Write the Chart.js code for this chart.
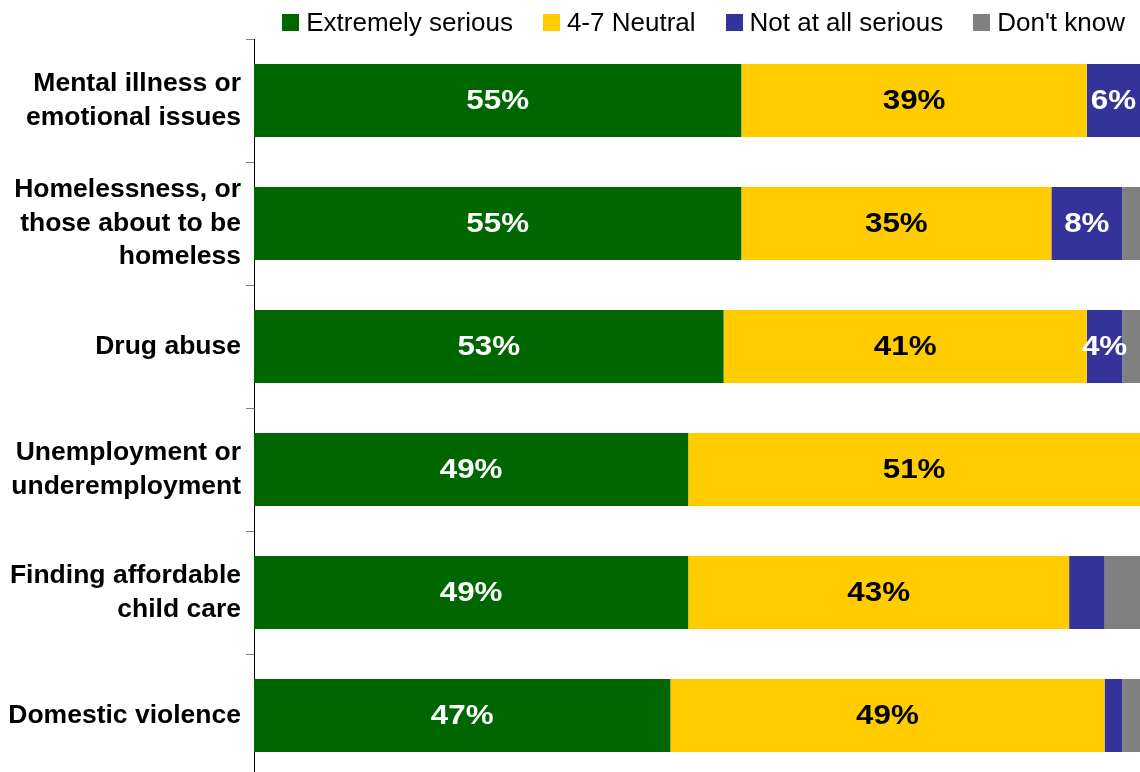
<!DOCTYPE html>
<html>
<head>
<meta charset="utf-8">
<script src="https://cdn.jsdelivr.net/npm/chart.js@4"></script>
<style>
  html, body { margin: 0; padding: 0; background: #fff; overflow: hidden; }
  #wrap { position: relative; width: 1140px; height: 780px; }
  #legend {
    position: absolute; top: 7px; right: 15px;
    display: flex; align-items: center;
    font: 26px "Liberation Sans", Arial, sans-serif; color: #000;
  }
  #legend .item { display: flex; align-items: center; margin-left: 30px; }
  #legend .box { width: 17px; height: 17px; margin-right: 7px; }
</style>
</head>
<body>
<div id="wrap">
  <canvas id="chart"></canvas>
  <div id="legend"></div>
</div>
<script>
/* ---- Data ---- */

const categories = [
  ["Mental illness or", "emotional issues"],
  ["Homelessness, or", "those about to be", "homeless"],
  "Drug abuse",
  ["Unemployment or", "underemployment"],
  ["Finding affordable", "child care"],
  "Domestic violence",
];

const seriesNames = ["Extremely serious", "4-7 Neutral", "Not at all serious", "Don't know"];

const extremelySerious = [55, 55, 53, 49, 49, 47];
const neutral = [39, 35, 41, 51, 43, 49];
const notAtAllSerious = [6, 8, 4, 0, 4, 2];
const dontKnow = [0, 2, 2, 0, 4, 2];

// which rows carry a value label, per series
const extremelyLabelled = [true, true, true, true, true, true];
const neutralLabelled = [true, true, true, true, true, true];
const notAtAllLabelled = [true, true, true, false, false, false];
const dontKnowLabelled = [false, false, false, false, false, false];

/* ---- Theme ---- */

const FONT = '"Liberation Sans", Arial, sans-serif';
const colors = ["#006600", "#FFCC00", "#333399", "#808080"];
const labelColors = ["#fff", "#000", "#fff", "#fff"];

/* ---- Value labels drawn in the middle of each bar ---- */

const barLabels = {
  id: "barLabels",
  afterDatasetsDraw(chart) {
    const ctx = chart.ctx;
    ctx.font = "bold 28px " + FONT;
    ctx.textAlign = "center";
    ctx.textBaseline = "middle";
    chart.data.datasets.forEach((ds, i) => {
      chart.getDatasetMeta(i).data.forEach((bar, j) => {
        if (!ds.showLabel[j]) return;
        const { x, y, base } = bar.getProps(["x", "y", "base"], true);
        ctx.save();
        ctx.translate((x + base) / 2, y + 1);
        ctx.scale(1.12, 1); // source text is slightly wide
        ctx.fillStyle = ds.labelColor;
        ctx.fillText(ds.data[j] + "%", 0, 0);
        ctx.restore();
      });
    });
  },
};

const makeSet = (i, data, shown) => ({
  label: seriesNames[i],
  data,
  backgroundColor: colors[i],
  labelColor: labelColors[i],
  showLabel: shown,
  categoryPercentage: 1,
  barPercentage: 0.593,
});

const drawChart = () => {
  new Chart(document.getElementById("chart"), {
    type: "bar",
    data: {
      labels: categories,
      datasets: [
        makeSet(0, extremelySerious, extremelyLabelled),
        makeSet(1, neutral, neutralLabelled),
        makeSet(2, notAtAllSerious, notAtAllLabelled),
        makeSet(3, dontKnow, dontKnowLabelled),
      ],
    },
    options: {
      indexAxis: "y",
      responsive: true,
      maintainAspectRatio: false,
      animation: false,
      layout: { padding: { top: 39, right: 0, bottom: 3, left: 0 } },
      plugins: {
        legend: { display: false },
        tooltip: { enabled: false },
      },
      scales: {
        x: { stacked: true, display: false, min: 0, max: 100 },
        y: {
          stacked: true,
          afterFit: (scale) => {
            scale.width = 254;
            // labels sit between offset gridlines, no overflow room needed
            scale.paddingTop = 0;
            scale.paddingBottom = 0;
          },
          grid: {
            offset: true,
            drawOnChartArea: false,
            tickLength: 8,
            color: "#808080",
          },
          border: { color: "#000", width: 1 },
          ticks: {
            color: "#000",
            padding: 5,
            font: { family: FONT, size: 26.5, weight: "bold", lineHeight: 1.27 },
          },
        },
      },
    },
    plugins: [barLabels],
  });
};

/* ---- Legend ---- */

const legend = document.getElementById("legend");
seriesNames.forEach((name, i) => {
  const item = document.createElement("div");
  item.className = "item";
  item.innerHTML = `<span class="box" style="background:${colors[i]}"></span><span>${name}</span>`;
  legend.appendChild(item);
});

Promise.all([
  document.fonts.load('bold 26px "Liberation Sans"'),
  document.fonts.load('26px "Liberation Sans"'),
]).then(drawChart, drawChart);
</script>
</body>
</html>
